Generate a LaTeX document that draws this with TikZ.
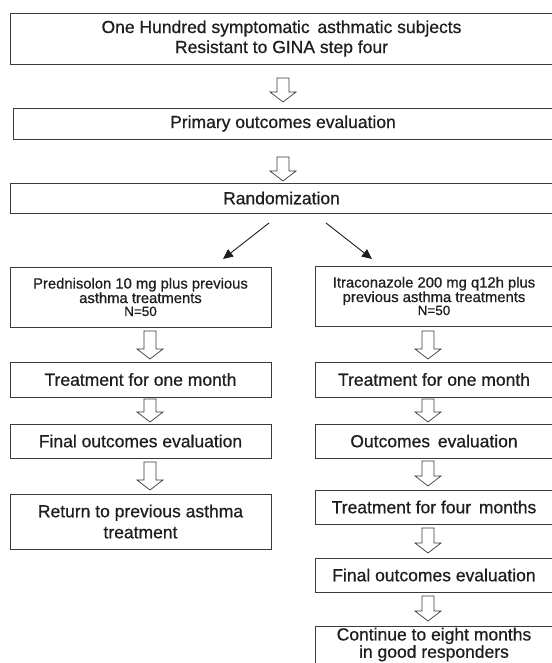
\documentclass[tikz,border=0pt]{standalone}
\usepackage{fontspec}
\setmainfont[FakeBold=0.6,BoldFont={Liberation Sans}]{Liberation Sans}
\usetikzlibrary{arrows.meta}
\definecolor{edge}{HTML}{3A3A3A}
\definecolor{ink}{HTML}{1E1E1E}
\newcommand\blockarr[3]{%
  \draw[harrow] (#1-6,#2) -- (#1+6,#2) -- (#1+6,#3-10) -- (#1+13,#3-10) -- (#1,#3)
    -- (#1-13,#3-10) -- (#1-6,#3-10) -- cycle;}
\begin{document}
\begin{tikzpicture}[x=1pt,y=-1pt,
  box/.style={draw=edge,line width=0.9pt,fill=white,inner sep=0pt,align=center,
    text=ink,font=\bfseries\fontsize{17.5}{20}\selectfont},
  smallbox/.style={box,font=\bfseries\fontsize{14.8}{14.5}\selectfont},
  harrow/.style={draw=edge,line width=0.7pt,fill=white,line join=miter},
  diag/.style={draw=ink,line width=0.9pt,-{Triangle[length=10pt,width=9pt]}}]
\useasboundingbox[fill=white] (0,0) rectangle (551,663);

% top column
\node[box,minimum width=543,minimum height=51] (b1) at (281.5,38.5)
  {One Hundred symptomatic\, asthmatic subjects\\Resistant to GINA step four};
\node[box,minimum width=540,minimum height=31] (b2) at (283,123.5)
  {Primary outcomes evaluation};
\node[box,minimum width=543,minimum height=30] (b3) at (281.5,198)
  {Randomization};

\blockarr{283}{78}{102}
\blockarr{283}{157}{181}

% branch arrow ends
\coordinate (sl) at (269,223);
\coordinate (sr) at (326,223);
\coordinate (tl) at (223,259);
\coordinate (tr) at (372,259);

% left column
\node[smallbox,minimum width=261,minimum height=60] (l1) at (140.5,297)
  {Prednisolon 10 mg plus previous\\asthma treatments\\[-1.5pt]{\fontsize{13.5}{13}\selectfont N=50}};
\node[box,minimum width=261,minimum height=35] (l2) at (140.5,379.5)
  {Treatment for one month};
\node[box,minimum width=261,minimum height=34] (l3) at (140.5,441)
  {Final outcomes evaluation};
\node[box,minimum width=261,minimum height=55,font=\bfseries\fontsize{17.5}{21}\selectfont] (l4) at (140.5,521.5)
  {Return to previous asthma\\treatment};

% right column
\node[smallbox,minimum width=238,minimum height=60] (r1) at (434,296)
  {Itraconazole 200 mg q12h plus\\previous asthma treatments\\[-1.5pt]{\fontsize{13.5}{13}\selectfont N=50}};
\node[box,minimum width=238,minimum height=35] (r2) at (434,379.5)
  {Treatment for one month};
\node[box,minimum width=238,minimum height=34] (r3) at (434,441)
  {Outcomes\, evaluation};
\node[box,minimum width=238,minimum height=34] (r4) at (434,507)
  {Treatment for four\, months};
\node[box,minimum width=238,minimum height=34] (r5) at (434,575)
  {Final outcomes evaluation};
\node[box,minimum width=238,minimum height=0pt,font=\bfseries\fontsize{17.5}{16}\selectfont,
  anchor=north] (r6) at (434,626)
  {\rule{0pt}{14pt}Continue to eight months\\in good responders\rule[-16pt]{0pt}{16pt}};

\draw[diag] (sl) -- (tl);
\draw[diag] (sr) -- (tr);

\blockarr{150}{331}{359}
\blockarr{150}{399}{422}
\blockarr{150}{462}{490}

\blockarr{428}{331}{359}
\blockarr{428}{399}{422}
\blockarr{428}{461}{486}
\blockarr{428}{528}{553}
\blockarr{428}{596}{621}
\end{tikzpicture}
\end{document}
